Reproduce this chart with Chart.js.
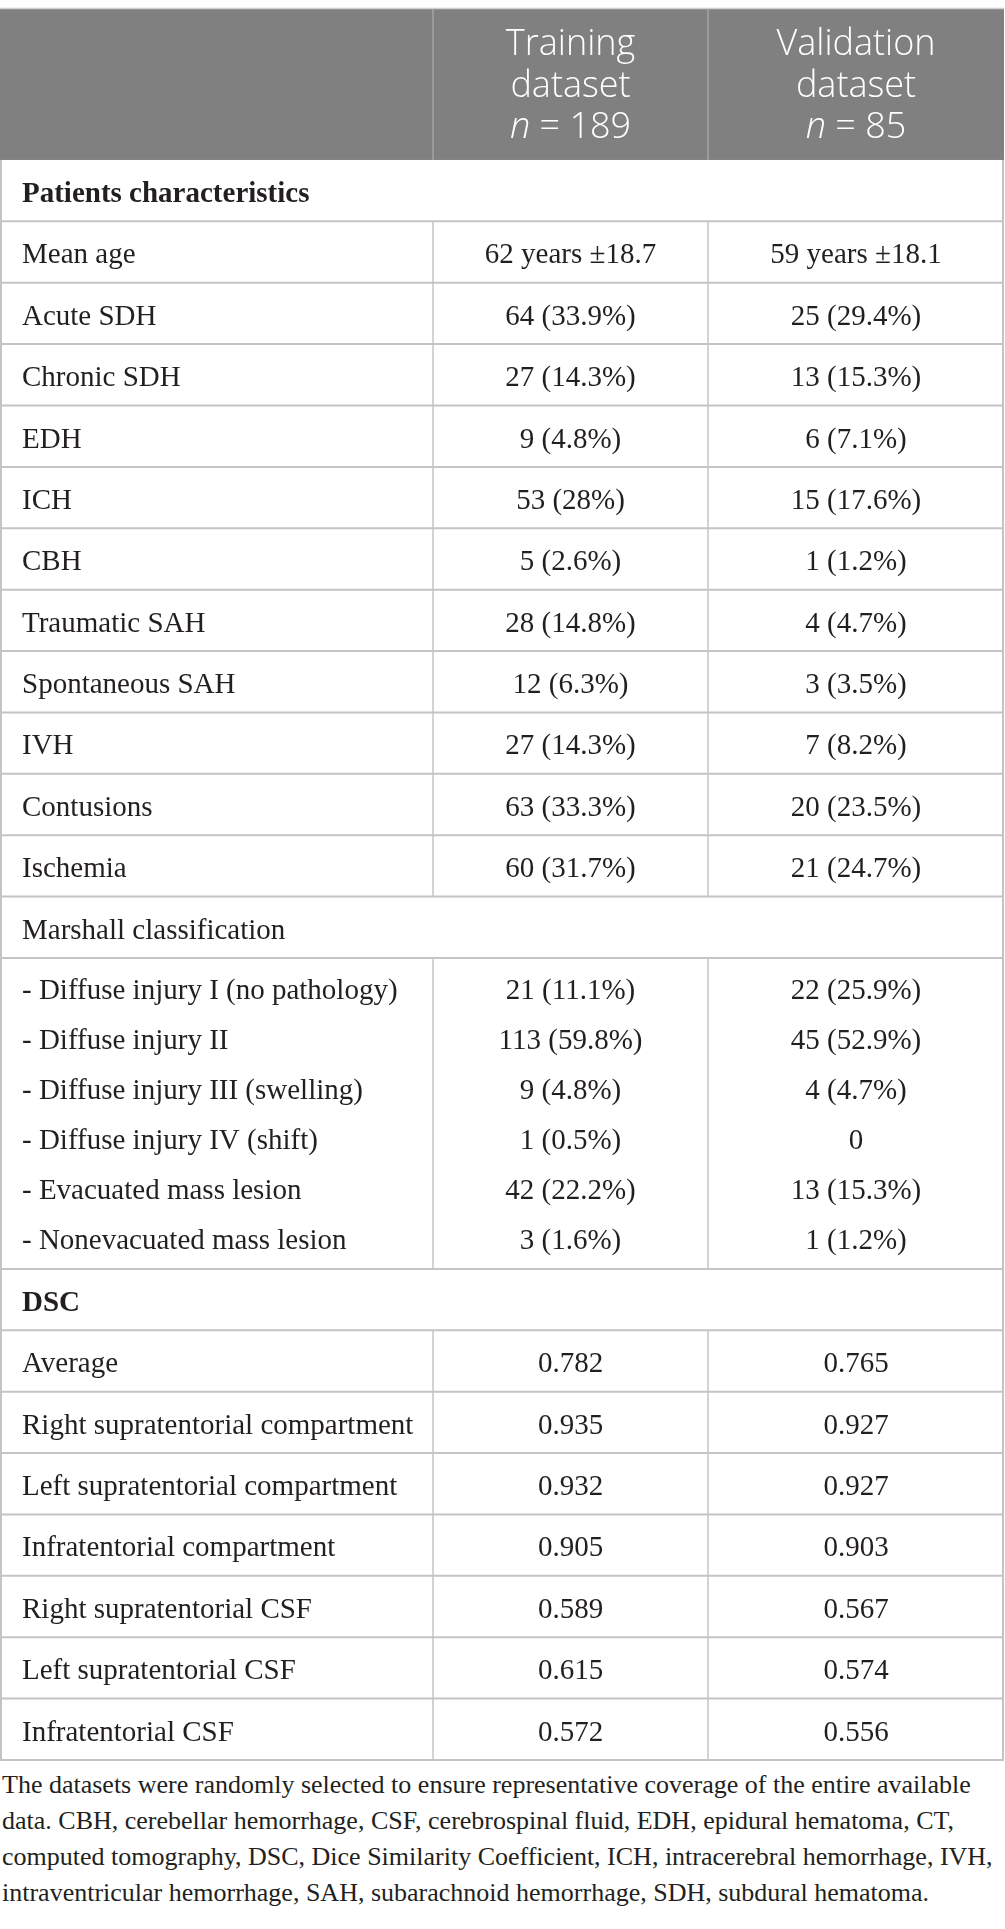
<!DOCTYPE html>
<html>
<head>
<meta charset="utf-8">
<script src="https://cdn.jsdelivr.net/npm/chart.js@4.4.1/dist/chart.umd.min.js"></script>
<style>
body { margin: 0; background: #fff; width: 1005px; height: 1929px; position: relative; overflow: hidden; }
#wrap { position: absolute; left: 0; top: 0; width: 1005px; height: 1764px; }
#note { position: absolute; left: 2px; top: 1767px; margin: 0; font: 26px "Liberation Serif", serif; line-height: 36px; color: #231f20; white-space: nowrap; }
</style>
</head>
<body>
<div id="wrap"><canvas id="tbl" width="1005" height="1764"></canvas></div>
<p id="note">The datasets were randomly selected to ensure representative coverage of the entire available<br>data. CBH, cerebellar hemorrhage, CSF, cerebrospinal fluid, EDH, epidural hematoma, CT,<br>computed tomography, DSC, Dice Similarity Coefficient, ICH, intracerebral hemorrhage, IVH,<br>intraventricular hemorrhage, SAH, subarachnoid hemorrhage, SDH, subdural hematoma.</p>
<script>
// column heads
var columnTitles = ["Training", "Validation"];
var columnN = [189, 85];

// patients characteristics
var patientLabels = ["Mean age", "Acute SDH", "Chronic SDH", "EDH", "ICH", "CBH", "Traumatic SAH",
    "Spontaneous SAH", "IVH", "Contusions", "Ischemia"];
var patientTraining = ["62 years ±18.7", "64 (33.9%)", "27 (14.3%)", "9 (4.8%)", "53 (28%)", "5 (2.6%)",
    "28 (14.8%)", "12 (6.3%)", "27 (14.3%)", "63 (33.3%)", "60 (31.7%)"];
var patientValidation = ["59 years ±18.1", "25 (29.4%)", "13 (15.3%)", "6 (7.1%)", "15 (17.6%)", "1 (1.2%)",
    "4 (4.7%)", "3 (3.5%)", "7 (8.2%)", "20 (23.5%)", "21 (24.7%)"];

// marshall classification
var marshallLabels = ["- Diffuse injury I (no pathology)", "- Diffuse injury II", "- Diffuse injury III (swelling)",
    "- Diffuse injury IV (shift)", "- Evacuated mass lesion", "- Nonevacuated mass lesion"];
var marshallTraining = ["21 (11.1%)", "113 (59.8%)", "9 (4.8%)", "1 (0.5%)", "42 (22.2%)", "3 (1.6%)"];
var marshallValidation = ["22 (25.9%)", "45 (52.9%)", "4 (4.7%)", "0", "13 (15.3%)", "1 (1.2%)"];

// DSC
var dscLabels = ["Average", "Right supratentorial compartment", "Left supratentorial compartment",
    "Infratentorial compartment", "Right supratentorial CSF", "Left supratentorial CSF", "Infratentorial CSF"];
var dscTraining = [0.782, 0.935, 0.932, 0.905, 0.589, 0.615, 0.572];
var dscValidation = [0.765, 0.927, 0.927, 0.903, 0.567, 0.574, 0.556];

// layout, in scale units
var colWidths = [433, 275, 296];
var headH = 151, rowH = 61.4, subH = 50, groupH = 311;

var ink = "#231f20";
var lineCol = "#c4c4c4";
var bodyFont = "29px 'Liberation Serif', serif";
var boldFont = "bold 29px 'Liberation Serif', serif";
var headFont = "300 36px 'Open Sans', sans-serif";
var headItalic = "italic 300 36px 'Open Sans', sans-serif";

function buildRows() {
    var rows = [{ kind: "head" }];
    rows.push({ kind: "section", label: "Patients characteristics", bold: true });
    patientLabels.forEach(function(l, i) {
        rows.push({ kind: "row", label: l, vals: [patientTraining[i], patientValidation[i]] });
    });
    rows.push({ kind: "section", label: "Marshall classification", bold: false });
    rows.push({ kind: "group", labels: marshallLabels, vals: [marshallTraining, marshallValidation] });
    rows.push({ kind: "section", label: "DSC", bold: true });
    dscLabels.forEach(function(l, i) {
        rows.push({ kind: "row", label: l, vals: [dscTraining[i].toFixed(3), dscValidation[i].toFixed(3)] });
    });
    var y = 0;
    rows.forEach(function(r) {
        r.top = y;
        r.h = r.kind == "head" ? headH : (r.kind == "group" ? groupH : rowH);
        y += r.h;
        r.bottom = y;
    });
    return { rows: rows, total: y };
}

var table = buildRows();
var edges = [0];
colWidths.forEach(function(w) { edges.push(edges[edges.length - 1] + w); });

var tablePlugin = {
    id: "tableCells",
    afterDraw: function(chart) {
        var ctx = chart.ctx;
        var xs = chart.scales.x, ys = chart.scales.y;
        var X = function(v) { return xs.getPixelForValue(v); };
        var Y = function(v) { return ys.getPixelForValue(v); };
        var right = edges[edges.length - 1];

        function hline(y, x0, x1, col, w) {
            ctx.strokeStyle = col; ctx.lineWidth = w;
            ctx.beginPath(); ctx.moveTo(x0, y); ctx.lineTo(x1, y); ctx.stroke();
        }
        function vline(x, y0, y1, col, w) {
            ctx.strokeStyle = col; ctx.lineWidth = w;
            ctx.beginPath(); ctx.moveTo(x, y0); ctx.lineTo(x, y1); ctx.stroke();
        }
        function mid(c) { return (X(edges[c]) + X(edges[c + 1])) / 2; }

        ctx.save();
        table.rows.forEach(function(r) {
            var top = Y(r.top), bot = Y(r.bottom);
            if (r.kind == "head") {
                ctx.fillStyle = "#808080";
                ctx.fillRect(X(0), top, X(right) - X(0), bot - top);
                hline(top - 0.5, X(0), X(right), "#cfcfcf", 1.5);
                vline(X(edges[1]), top, bot, "#a3a3a3", 1.5);
                vline(X(edges[2]), top, bot, "#a3a3a3", 1.5);
                ctx.fillStyle = "#fff";
                ctx.textAlign = "center";
                ctx.textBaseline = "alphabetic";
                for (var c = 0; c < 2; c++) {
                    var cx = mid(c + 1);
                    ctx.font = headFont;
                    ctx.fillText(columnTitles[c], cx, top + 46);
                    ctx.fillText("dataset", cx, top + 88);
                    // "n = 189" with italic n
                    var rest = " = " + columnN[c];
                    ctx.font = headItalic;
                    var wn = ctx.measureText("n").width;
                    ctx.font = headFont;
                    var wr = ctx.measureText(rest).width;
                    var x0 = cx - (wn + wr) / 2;
                    ctx.textAlign = "left";
                    ctx.font = headItalic;
                    ctx.fillText("n", x0, top + 129);
                    ctx.font = headFont;
                    ctx.fillText(rest, x0 + wn, top + 129);
                    ctx.textAlign = "center";
                }
                return;
            }
            // cell borders
            hline(bot, X(0), X(right), lineCol, 2);
            vline(X(0) + 1, top, bot, lineCol, 2);
            vline(X(right) - 1, top, bot, lineCol, 2);
            if (r.kind != "section") {
                vline(X(edges[1]), top, bot, lineCol, 1.5);
                vline(X(edges[2]), top, bot, lineCol, 1.5);
            }
            ctx.fillStyle = ink;
            ctx.textBaseline = "alphabetic";
            if (r.kind == "section") {
                ctx.font = r.bold ? boldFont : bodyFont;
                ctx.textAlign = "left";
                ctx.fillText(r.label, X(22), top + 42);
            } else if (r.kind == "row") {
                ctx.font = bodyFont;
                ctx.textAlign = "left";
                ctx.fillText(r.label, X(22), top + 42);
                ctx.textAlign = "center";
                ctx.fillText(r.vals[0], mid(1), top + 42);
                ctx.fillText(r.vals[1], mid(2), top + 42);
            } else if (r.kind == "group") {
                ctx.font = bodyFont;
                r.labels.forEach(function(l, i) {
                    var by = Y(r.top + 41 + subH * i);
                    ctx.textAlign = "left";
                    ctx.fillText(l, X(22), by);
                    ctx.textAlign = "center";
                    ctx.fillText(r.vals[0][i], mid(1), by);
                    ctx.fillText(r.vals[1][i], mid(2), by);
                });
            }
        });
        ctx.restore();
    }
};

var chart = new Chart(document.getElementById("tbl"), {
    type: "scatter",
    data: { datasets: [] },
    options: {
        responsive: false,
        animation: false,
        devicePixelRatio: 1,
        layout: { padding: { top: 9, left: 0, right: 1, bottom: 4 } },
        plugins: { legend: { display: false }, tooltip: { enabled: false } },
        scales: {
            x: { type: "linear", offset: false, min: 0, max: edges[edges.length - 1], display: false },
            y: { type: "linear", offset: false, min: 0, max: table.total, reverse: true, display: false }
        }
    },
    plugins: [tablePlugin]
});
</script>
</body>
</html>
